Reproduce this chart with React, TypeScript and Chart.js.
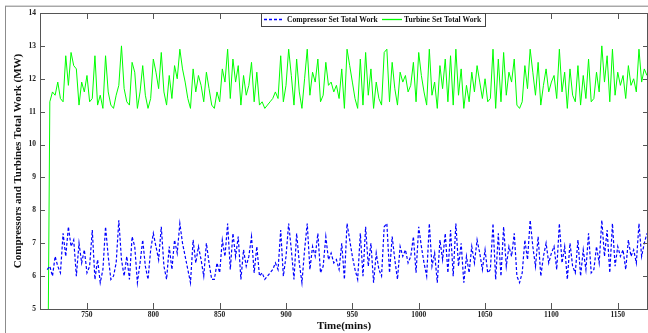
import React, { useEffect, useRef } from 'react';
import { Chart, registerables } from 'chart.js';

Chart.register(...registerables);

// Time axis: samples every 2 minutes starting at minute 720
const startMinute = 720;
const stepMinutes = 2;

const turbineWork: number[] = [
  // 720 - 794
  0, 11.3, 11.6, 11.5, 11.9, 11.4, 11.3, 12.7, 11.8, 12.8, 12.4, 12.3, 11.2, 11.9, 11.6, 12.1, 11.3, 11.4, 12.7, 11.2,
  11.5, 11.1, 12.7, 11.6, 11.2, 11.1, 11.5, 11.8, 13.0, 11.7, 11.3, 11.2, 12.5, 12.2, 11.1, 11.6, 12.4, 11.5,
  // 796 - 870
  11.1, 11.4, 12.6, 12.2, 11.7, 12.8, 11.6, 11.2, 12.1, 11.4, 12.4, 12.0, 12.9, 12.3, 11.9, 11.4, 11.1, 12.3, 11.6, 12.1,
  11.8, 11.3, 12.2, 11.7, 11.2, 11.1, 11.6, 11.3, 12.3, 11.9, 12.9, 11.4, 12.6, 11.9, 12.4, 11.2, 12.1, 11.5,
  // 872 - 946
  11.8, 12.5, 11.3, 12.2, 11.2, 11.3, 11.1, 11.2, 11.3, 11.4, 11.6, 11.4, 12.7, 11.3, 11.8, 12.9, 12.1, 11.2, 12.6, 11.6,
  11.1, 12.0, 12.9, 11.5, 12.2, 11.9, 12.6, 11.3, 11.5, 12.5, 11.8, 11.9, 11.6, 11.8, 11.4, 12.3, 11.1, 12.9,
  // 948 - 1022
  12.4, 11.9, 11.4, 11.1, 12.6, 11.2, 12.8, 11.5, 12.3, 11.1, 11.9, 11.4, 11.2, 12.8, 12.9, 11.3, 12.5, 11.7, 11.2, 12.2,
  11.9, 12.1, 11.6, 11.8, 12.5, 11.3, 12.8, 12.1, 11.6, 11.2, 12.9, 11.5, 11.9, 11.1, 12.4, 11.7, 12.6, 11.3,
  // 1024 - 1098
  12.7, 11.2, 12.9, 11.5, 12.3, 11.1, 11.8, 11.3, 12.2, 11.6, 12.4, 11.9, 11.4, 12.0, 11.3, 11.4, 12.9, 11.1, 12.6, 11.3,
  12.8, 11.5, 12.2, 11.9, 12.6, 11.2, 11.1, 11.3, 12.4, 11.7, 12.9, 12.2, 11.5, 12.5, 11.2, 11.8, 12.3, 11.6,
  // 1100 - 1172
  11.9, 12.1, 11.4, 12.9, 11.6, 12.2, 11.1, 12.3, 11.5, 11.3, 12.4, 11.2, 12.1, 11.4, 12.6, 11.3, 11.4, 12.2, 11.6, 13.0,
  11.9, 12.7, 11.3, 12.9, 11.5, 12.2, 11.8, 12.1, 11.4, 12.4, 11.8, 12.0, 11.6, 12.9, 11.9, 12.3, 12.1,
];

const compressorWork: number[] = [
  // 720 - 794
  6.2, 6.3, 6.0, 6.6, 6.3, 6.1, 7.3, 6.6, 7.5, 6.9, 7.1, 6.0, 7.0, 6.4, 6.8, 6.1, 6.3, 7.4, 5.9, 6.5,
  5.8, 6.2, 7.5, 6.6, 5.9, 6.0, 6.4, 7.7, 6.5, 6.0, 6.6, 5.9, 7.2, 6.9, 5.8, 6.4, 7.1, 6.3,
  // 796 - 870
  5.9, 6.8, 7.3, 6.9, 6.5, 7.5, 6.3, 5.9, 6.9, 6.2, 7.1, 6.7, 7.6, 7.0, 6.6, 6.2, 5.8, 7.1, 6.4, 6.9,
  6.5, 6.0, 7.0, 6.4, 5.9, 5.9, 6.4, 6.1, 7.1, 6.6, 7.6, 6.2, 7.3, 6.6, 7.2, 5.9, 6.8, 6.3,
  // 872 - 946
  6.6, 7.2, 6.1, 6.9, 6.0, 6.1, 5.9, 6.0, 6.1, 6.2, 6.4, 6.2, 7.4, 6.0, 6.6, 7.6, 6.8, 5.9, 7.3, 6.4,
  5.8, 6.8, 7.6, 6.2, 6.9, 6.6, 7.3, 6.1, 6.3, 7.2, 6.5, 6.7, 6.4, 6.5, 6.2, 7.0, 5.9, 7.6,
  // 948 - 1022
  7.1, 6.6, 6.2, 5.9, 7.3, 6.0, 7.5, 6.3, 7.0, 5.8, 6.7, 6.2, 6.0, 7.5, 7.6, 6.1, 7.2, 6.5, 5.9, 6.9,
  6.6, 6.8, 6.4, 6.6, 7.2, 6.1, 7.5, 6.9, 6.4, 6.0, 7.6, 6.3, 6.7, 5.8, 7.1, 6.5, 7.3, 6.1,
  // 1024 - 1098
  7.4, 6.0, 7.6, 6.3, 7.0, 5.8, 6.6, 6.1, 6.9, 6.4, 7.1, 6.7, 6.2, 6.8, 6.1, 6.2, 7.6, 5.9, 7.3, 6.0,
  7.5, 6.3, 6.9, 6.6, 7.3, 6.0, 5.8, 6.1, 7.1, 6.5, 7.7, 6.9, 6.3, 7.2, 6.0, 6.6, 7.0, 6.4,
  // 1100 - 1172
  6.7, 6.9, 6.2, 7.6, 6.4, 6.9, 5.9, 7.0, 6.3, 6.1, 7.1, 6.0, 6.8, 6.2, 7.3, 6.1, 6.2, 6.9, 6.4, 7.7,
  6.6, 7.4, 6.1, 7.6, 6.3, 6.9, 6.6, 6.8, 6.2, 7.1, 6.6, 6.8, 6.4, 7.6, 6.6, 7.0, 7.3,
];

const xTickValues = [750, 800, 850, 900, 950, 1000, 1050, 1100, 1150];
const yTickValues = [5, 6, 7, 8, 9, 10, 11, 12, 13, 14];

const seriesNames = ['Compressor Set Total Work', 'Turbine Set Total Work'];
const xTitle = 'Time(mins)';
const yTitle = 'Compressors and Turbines Total Work (MW)';

const X_MIN = 714.6;
const X_MAX = 1172.8;
const Y_MIN = 5;
const Y_MAX = 14;

const SERIF = '"Liberation Serif", "Times New Roman", serif';
const AXIS_COLOR = '#555555';
const BLUE = '#0000ff';
const GREEN = '#00ff00';

const toPoints = (vals: number[]) =>
  vals.map((v, i) => ({ x: startMinute + i * stepMinutes, y: v }));

const framePlugin = {
  id: 'matlabFrame',
  beforeDraw(chart: any) {
    const { ctx, width, height } = chart;
    ctx.save();
    ctx.fillStyle = '#ffffff';
    ctx.fillRect(0, 0, width, height);
    // outer window frame
    ctx.fillStyle = '#d6d6d6';
    ctx.fillRect(5, 5, width - 5, 1);
    ctx.fillStyle = '#a8a8a8';
    ctx.fillRect(5, 6, width - 5, 1);
    ctx.fillStyle = '#8c8c8c';
    ctx.fillRect(5, 6, 1, height - 6);
    ctx.restore();
  },
  afterDatasetsDraw(chart: any) {
    const { ctx, chartArea } = chart;
    const { left, right, top, bottom } = chartArea;
    const xs = chart.scales.x;
    const ys = chart.scales.y;
    ctx.save();
    ctx.strokeStyle = AXIS_COLOR;
    ctx.lineWidth = 1;
    ctx.beginPath();
    ctx.rect(Math.round(left) + 0.5, Math.round(top) + 0.5, Math.round(right - left) - 1, Math.round(bottom - top));
    ctx.stroke();
    ctx.beginPath();
    for (const v of xTickValues) {
      const px = Math.round(xs.getPixelForValue(v)) + 0.5;
      ctx.moveTo(px, bottom);
      ctx.lineTo(px, bottom - 6);
      ctx.moveTo(px, top);
      ctx.lineTo(px, top + 6);
    }
    for (const v of yTickValues) {
      const py = Math.round(ys.getPixelForValue(v)) + 0.5;
      ctx.moveTo(left, py);
      ctx.lineTo(left + 5, py);
      ctx.moveTo(right, py);
      ctx.lineTo(right - 5, py);
    }
    ctx.stroke();

    // legend box
    const bx = 261.5, by = 13.5, bw = 224, bh = 13;
    ctx.fillStyle = '#ffffff';
    ctx.fillRect(bx, by, bw, bh);
    ctx.strokeStyle = '#444444';
    ctx.strokeRect(bx, by, bw, bh);
    const ly = 19.5;
    ctx.lineWidth = 1.3;
    ctx.strokeStyle = BLUE;
    ctx.setLineDash([3, 2]);
    ctx.beginPath();
    ctx.moveTo(264, ly);
    ctx.lineTo(283, ly);
    ctx.stroke();
    ctx.setLineDash([]);
    ctx.strokeStyle = GREEN;
    ctx.beginPath();
    ctx.moveTo(382, ly);
    ctx.lineTo(402, ly);
    ctx.stroke();
    // size the legend font so the first label spans ~91px like the reference
    ctx.font = `bold 10px ${SERIF}`;
    const w = ctx.measureText(seriesNames[0]).width || 91;
    const size = Math.min(10, (10 * 91) / w);
    ctx.fillStyle = '#111111';
    ctx.font = `bold ${size.toFixed(2)}px ${SERIF}`;
    ctx.textBaseline = 'middle';
    ctx.textAlign = 'left';
    ctx.fillText(seriesNames[0], 287, ly + 0.5);
    ctx.fillText(seriesNames[1], 404, ly + 0.5);
    ctx.restore();
  },
};

export default function App() {
  const canvasRef = useRef<HTMLCanvasElement | null>(null);

  useEffect(() => {
    document.body.style.margin = '0';
    const canvas = canvasRef.current;
    if (!canvas) return;
    const chart = new Chart(canvas, {
      type: 'line',
      data: {
        datasets: [
          {
            label: seriesNames[0],
            data: toPoints(compressorWork),
            borderColor: BLUE,
            borderWidth: 1.2,
            borderDash: [3, 2],
            pointRadius: 0,
            tension: 0,
            fill: false,
          },
          {
            label: seriesNames[1],
            data: toPoints(turbineWork),
            borderColor: GREEN,
            borderWidth: 1,
            pointRadius: 0,
            tension: 0,
            fill: false,
          },
        ],
      },
      options: {
        animation: false,
        responsive: false,
        maintainAspectRatio: false,
        devicePixelRatio: 1,
        layout: { padding: { top: 13, left: 0, right: 0, bottom: 0 } },
        plugins: {
          legend: { display: false },
          tooltip: { enabled: false },
        },
        scales: {
          x: {
            type: 'linear',
            min: X_MIN,
            max: X_MAX,
            afterBuildTicks: (scale: any) => {
              scale.ticks = xTickValues.map((v) => ({ value: v }));
            },
            afterFit: (scale: any) => {
              scale.height = 24;
            },
            grid: { display: false, drawTicks: false },
            border: { display: false },
            ticks: {
              padding: 2,
              color: '#222222',
              font: { family: SERIF, size: 7.5, weight: 'bold' },
              maxRotation: 0,
              autoSkip: false,
              callback: (v: any) => String(v),
            },
            title: {
              display: true,
              text: xTitle,
              color: '#111111',
              font: { family: SERIF, size: 11, weight: 'bold' },
              padding: { top: 0, bottom: 0.4 },
            },
          },
          y: {
            type: 'linear',
            min: Y_MIN,
            max: Y_MAX,
            afterBuildTicks: (scale: any) => {
              scale.ticks = yTickValues.map((v) => ({ value: v }));
            },
            afterFit: (scale: any) => {
              scale.width = 40;
            },
            grid: { display: false, drawTicks: false },
            border: { display: false },
            ticks: {
              padding: 4,
              color: '#222222',
              font: { family: SERIF, size: 7.5, weight: 'bold' },
              autoSkip: false,
              callback: (v: any) => String(v),
            },
            title: {
              display: true,
              text: yTitle,
              color: '#111111',
              font: { family: SERIF, size: 11, weight: 'bold' },
              padding: { top: 11.4, bottom: 0 },
            },
          },
        },
      },
      plugins: [framePlugin],
    } as any);
    return () => chart.destroy();
  }, []);

  return (
    <div style={{ position: 'absolute', left: 0, top: 0, width: 648, height: 333 }}>
      <canvas ref={canvasRef} width={648} height={333} style={{ width: 648, height: 333, display: 'block' }} />
    </div>
  );
}
